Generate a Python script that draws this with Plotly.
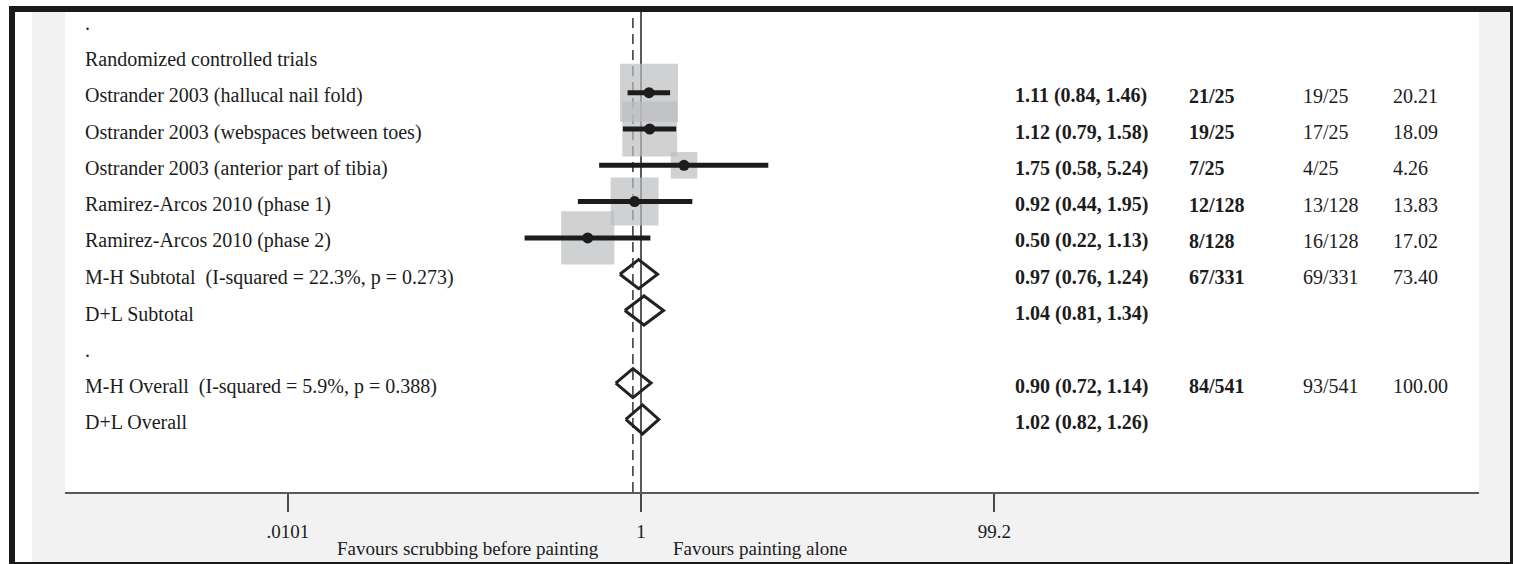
import math
import plotly.graph_objects as go

# ---- data -------------------------------------------------------------
row_labels = [
    ".",
    "Randomized controlled trials",
    "Ostrander 2003 (hallucal nail fold)",
    "Ostrander 2003 (webspaces between toes)",
    "Ostrander 2003 (anterior part of tibia)",
    "Ramirez-Arcos 2010 (phase 1)",
    "Ramirez-Arcos 2010 (phase 2)",
    "M-H Subtotal\u00a0 (I-squared = 22.3%, p = 0.273)",
    "D+L Subtotal",
    ".",
    "M-H Overall\u00a0 (I-squared = 5.9%, p = 0.388)",
    "D+L Overall",
]

# individual studies (rows 2-6)
study_rows = [2, 3, 4, 5, 6]
study_rr = [1.11, 1.12, 1.75, 0.92, 0.50]
study_lo = [0.84, 0.79, 0.58, 0.44, 0.22]
study_hi = [1.46, 1.58, 5.24, 1.95, 1.13]
study_weight = [20.21, 18.09, 4.26, 13.83, 17.02]
study_events_scrub = ["21/25", "19/25", "7/25", "12/128", "8/128"]
study_events_paint = ["19/25", "17/25", "4/25", "13/128", "16/128"]

# pooled estimates (diamonds)
pooled_rows = [7, 8, 10, 11]
pooled_rr = [0.97, 1.04, 0.90, 1.02]
pooled_lo = [0.76, 0.81, 0.72, 0.82]
pooled_hi = [1.24, 1.34, 1.14, 1.26]
pooled_events_scrub = ["67/331", "", "84/541", ""]
pooled_events_paint = ["69/331", "", "93/541", ""]
pooled_weight = ["73.40", "", "100.00", ""]

overall_rr = 0.90          # M-H overall, dashed reference line
null_value = 1.0

tick_vals = [0.0101, 1, 99.2]
tick_text = [".0101", "1", "99.2"]
favours_left = "Favours scrubbing before painting"
favours_right = "Favours painting alone"

# ---- geometry helpers -------------------------------------------------
W, H = 1513, 564
ML, MR, MT, MB = 65, 34, 12, 72
PW, PH = W - ML - MR, H - MT - MB


def px_x(px):
    return (px - ML) / PW


def px_y(py):
    return (H - MB - py) / PH


FONT = "Liberation Serif, Times New Roman, serif"
INK = "#1c1c1c"

fig = go.Figure()

# study weight boxes (area proportional to weight)
fig.add_trace(go.Scatter(
    x=study_rr, y=study_rows, mode="markers",
    marker=dict(symbol="square", size=[12.9 * math.sqrt(w) for w in study_weight],
                color="#bcbdc1", line=dict(width=0)),
    hoverinfo="skip", showlegend=False,
))

# confidence interval bars
ci_x, ci_y = [], []
for r, lo, hi in zip(study_rows, study_lo, study_hi):
    ci_x += [lo, hi, None]
    ci_y += [r, r, None]
fig.add_trace(go.Scatter(
    x=ci_x, y=ci_y, mode="lines", line=dict(color=INK, width=5),
    hoverinfo="skip", showlegend=False,
))

# point estimates
fig.add_trace(go.Scatter(
    x=study_rr, y=study_rows, mode="markers",
    marker=dict(symbol="circle", size=11, color=INK),
    hoverinfo="skip", showlegend=False,
))

# pooled diamonds
dx, dy = [], []
half = 0.40
for r, e, lo, hi in zip(pooled_rows, pooled_rr, pooled_lo, pooled_hi):
    dx += [lo, e, hi, e, lo, None]
    dy += [r, r - half, r, r + half, r, None]
fig.add_trace(go.Scatter(
    x=dx, y=dy, mode="lines", line=dict(color="#222222", width=3),
    hoverinfo="skip", showlegend=False,
))

# ---- background frame -------------------------------------------------
shapes = [
    dict(type="rect", xref="paper", yref="paper",
         x0=px_x(9), x1=px_x(1520), y0=px_y(570), y1=px_y(6),
         fillcolor="#1a1a1a", line=dict(width=0), layer="below"),
    dict(type="rect", xref="paper", yref="paper",
         x0=px_x(15), x1=px_x(1510), y0=px_y(562), y1=px_y(12),
         fillcolor="#ffffff", line=dict(width=0), layer="below"),
    dict(type="rect", xref="paper", yref="paper",
         x0=px_x(32), x1=px_x(1510), y0=px_y(562), y1=px_y(12),
         fillcolor="#f2f2f2", line=dict(width=0), layer="below"),
    dict(type="rect", xref="paper", yref="paper",
         x0=0, x1=1, y0=0, y1=1,
         fillcolor="#ffffff", line=dict(width=0), layer="below"),
    # null line and overall-estimate line
    dict(type="line", xref="x", yref="paper", x0=null_value, x1=null_value,
         y0=0, y1=1, line=dict(color="#222222", width=1.5), layer="below"),
    dict(type="line", xref="x", yref="paper", x0=overall_rr, x1=overall_rr,
         y0=0, y1=1, line=dict(color="#333333", width=1.5, dash="10px,6px"),
         layer="below"),
]

# ---- text columns -----------------------------------------------------
TEXT_SHIFT = -3
ann = []
for i, lab in enumerate(row_labels):
    ann.append(dict(x=px_x(83), y=i, xref="paper", yref="y", text=lab,
                    showarrow=False, xanchor="left", yanchor="middle",
                    yshift=TEXT_SHIFT,
                    font=dict(family=FONT, size=20, color=INK)))


def add_row_text(row, es, ev_s, ev_p, wt):
    cols = [(1013, f"<b>{es}</b>"), (1187, f"<b>{ev_s}</b>" if ev_s else ""),
            (1301, ev_p), (1391, wt)]
    for xpx, txt in cols:
        if txt:
            ann.append(dict(x=px_x(xpx), y=row, xref="paper", yref="y", text=txt,
                            showarrow=False, xanchor="left", yanchor="middle",
                            yshift=TEXT_SHIFT,
                            font=dict(family=FONT, size=20, color=INK)))


for r, e, lo, hi, es_, ep_, w in zip(study_rows, study_rr, study_lo, study_hi,
                                      study_events_scrub, study_events_paint,
                                      study_weight):
    add_row_text(r, f"{e:.2f} ({lo:.2f}, {hi:.2f})", es_, ep_, f"{w:.2f}")
for r, e, lo, hi, es_, ep_, w in zip(pooled_rows, pooled_rr, pooled_lo, pooled_hi,
                                      pooled_events_scrub, pooled_events_paint,
                                      pooled_weight):
    add_row_text(r, f"{e:.2f} ({lo:.2f}, {hi:.2f})", es_, ep_, w)

ann.append(dict(x=px_x(601), y=px_y(548), xref="paper", yref="paper",
                text=favours_left, showarrow=False, xanchor="right", yanchor="middle",
                font=dict(family=FONT, size=19, color=INK)))
ann.append(dict(x=px_x(671), y=px_y(548), xref="paper", yref="paper",
                text=favours_right, showarrow=False, xanchor="left", yanchor="middle",
                font=dict(family=FONT, size=19, color=INK)))

# ---- layout -----------------------------------------------------------
x_lo = (ML - 641) / 177.0
x_hi = (ML + PW - 641) / 177.0
row_px0, row_step = 20.1, 36.3
y_top = (MT - row_px0) / row_step
y_bot = (H - MB - row_px0) / row_step

fig.update_layout(
    width=W, height=H,
    margin=dict(l=ML, r=MR, t=MT, b=MB, pad=0),
    paper_bgcolor="#ffffff", plot_bgcolor="#ffffff",
    shapes=shapes, annotations=ann,
    showlegend=False,
    xaxis=dict(type="log", range=[x_lo, x_hi], showgrid=False, zeroline=False,
               showline=True, linecolor="#5a5a5a", linewidth=2,
               ticks="outside", ticklen=18, tickwidth=2, tickcolor="#4a4a4a",
               tickvals=tick_vals, ticktext=tick_text, ticklabelstandoff=3,
               tickfont=dict(family=FONT, size=19, color=INK), fixedrange=True),
    yaxis=dict(range=[y_bot, y_top], showgrid=False, zeroline=False,
               showline=False, showticklabels=False, ticks="", fixedrange=True),
)

fig.write_html("out.html", config={"displayModeBar": False})
